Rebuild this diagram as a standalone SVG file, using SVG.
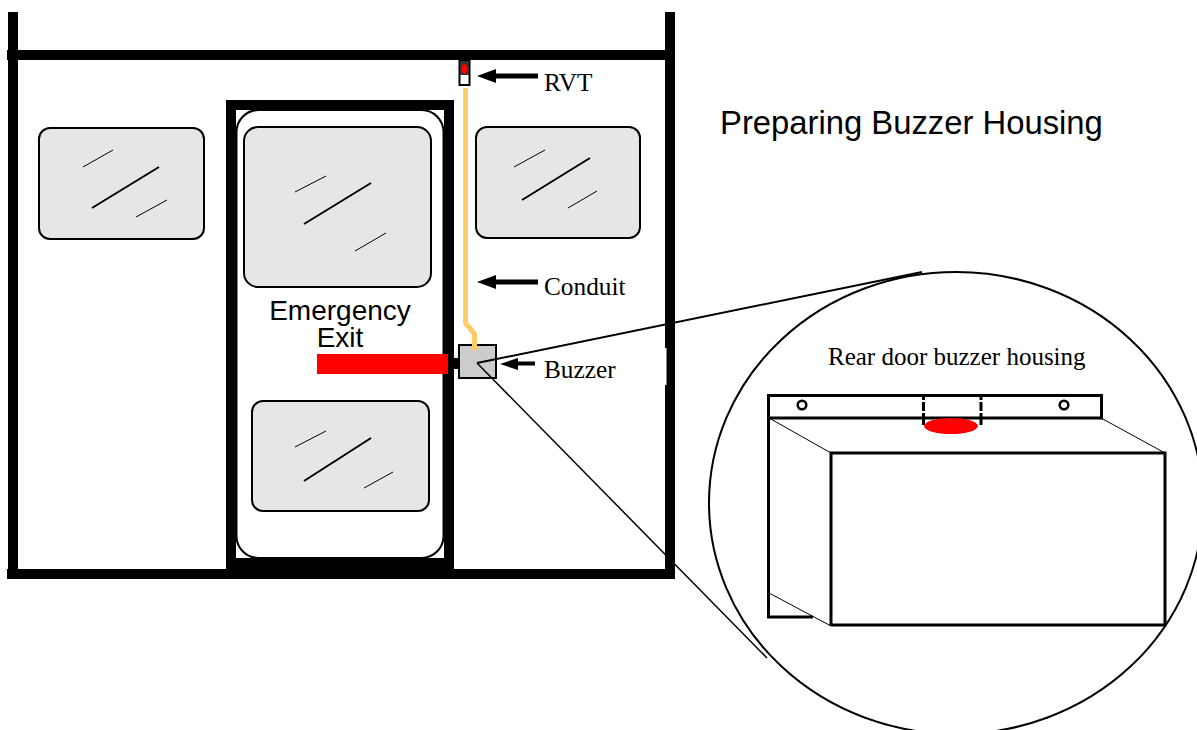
<svg xmlns="http://www.w3.org/2000/svg" width="1197" height="730" viewBox="0 0 1197 730">
<style>
.win{fill:#e6e6e6;stroke:#000;stroke-width:2}
.gl{stroke:#000;fill:none;stroke-width:1}
.gm{stroke:#000;fill:none;stroke-width:2}
.wall{fill:#000}
.lbl{font-family:"Liberation Serif",serif;font-size:25.300px;fill:#000}
.sans{font-family:"Liberation Sans",sans-serif;fill:#000}
.ln{fill:none;stroke:#000}
.ring{fill:none;stroke:#000;stroke-width:2.500}
.dash{fill:none;stroke:#000;stroke-width:3;stroke-dasharray:5 2 9 2 12 100}
</style>
<rect width="1197" height="730" fill="#fff"/>
<g id="building">
<rect class="wall" x="8" y="12" width="10" height="567"/>
<rect class="wall" x="665" y="12" width="10" height="567"/>
<rect class="wall" x="7" y="50" width="668" height="10"/>
<rect class="wall" x="7" y="569" width="666" height="10"/>
<rect x="665" y="348" width="1.500" height="37" fill="#fff"/>
</g>
<g id="window-left">
<rect class="win" x="39" y="128" width="165" height="111" rx="11"/>
<path class="gl" d="M83 167L113 150M136 217L167 200"/>
<path class="gm" d="M92 208L159 167"/>
</g>
<g id="window-right">
<rect class="win" x="476" y="127" width="164" height="111" rx="11"/>
<path class="gl" d="M514 167L545 150M568 208L597 191"/>
<path class="gm" d="M522 200L590 158"/>
</g>
<g id="door">
<rect class="wall" x="226" y="100" width="228" height="470"/>
<rect x="236" y="110" width="208" height="448" fill="#fff"/>
<rect x="236.500" y="110" width="207" height="448" rx="22" fill="#fff" stroke="#000" stroke-width="2"/>
<rect class="win" x="244" y="127" width="187" height="160" rx="14"/>
<path class="gl" d="M295 192L326 176M355 251L386 233"/>
<path class="gm" d="M304 224L371 183"/>
<rect class="win" x="252" y="401" width="177" height="110" rx="11"/>
<path class="gl" d="M295 447L326 431M364 488L393 472"/>
<path class="gm" d="M304 481L371 438"/>
<text class="sans" font-size="28" text-anchor="middle" x="340" y="320">Emergency</text>
<text class="sans" font-size="28" text-anchor="middle" x="340" y="347">Exit</text>
<rect x="317" y="354" width="131" height="20" fill="#f00"/>
</g>
<g id="rvt">
<rect x="459.500" y="60.500" width="10" height="24.500" fill="#fff" stroke="#000" stroke-width="2"/>
<rect x="460" y="61" width="9" height="14" fill="#333"/>
<ellipse cx="464.500" cy="69" rx="3" ry="5" fill="#f00"/>
<text class="lbl" x="544" y="91">RVT</text>
</g>
<g id="conduit">
<path d="M465.500 88V323L474.500 334V350" fill="none" stroke="#ffcc66" stroke-width="5"/>
<text class="lbl" x="544" y="295">Conduit</text>
</g>
<g id="buzzer">
<rect x="448" y="358" width="12" height="11" fill="#000"/>
<rect x="459" y="345" width="37" height="33" fill="#ccc" stroke="#000" stroke-width="2"/>
<path d="M474.500 343V350" stroke="#ffcc66" stroke-width="5" fill="none"/>
<text class="lbl" x="544" y="378">Buzzer</text>
</g>
<g id="title">
<text class="sans" font-size="32.800" x="720" y="134">Preparing Buzzer Housing</text>
</g>
<g id="connectors">
<path d="M538 76H494" stroke="#000" stroke-width="5"/>
<path d="M477 76L496 69V83Z" fill="#000"/>
<path d="M538 282H494" stroke="#000" stroke-width="5"/>
<path d="M477 282L496 275V289Z" fill="#000"/>
<path d="M535 363.500H515" stroke="#000" stroke-width="4"/>
<path d="M500 364L518 358V370Z" fill="#000"/>
<path class="ln" stroke-width="2" d="M477 363L922 272"/>
<path class="ln" stroke-width="1.500" d="M477 363L767 658"/>
</g>
<g id="detail">
<ellipse cx="956" cy="503" rx="247" ry="231" fill="none" stroke="#000" stroke-width="2"/>
<text class="lbl" style="font-size:25px" x="828" y="365">Rear door buzzer housing</text>
<path class="ln" stroke-width="3" d="M768.500 395.500H1101.500V418H768.500"/>
<path class="ln" stroke-width="3" d="M768.500 394V617H813"/>
<path class="ln" stroke-width="3" d="M831 626V453H1165V625H831"/>
<path class="ln" stroke-width="1" d="M769 418L831 453M1101 418L1165 453M769 593L831 626"/>
<path class="dash" d="M923.500 395V425M981 395V425"/>
<ellipse cx="951" cy="426" rx="27" ry="8" fill="#f00"/>
<circle class="ring" cx="802" cy="405" r="4.300"/>
<circle class="ring" cx="1064" cy="405" r="4.300"/>
</g>
</svg>
